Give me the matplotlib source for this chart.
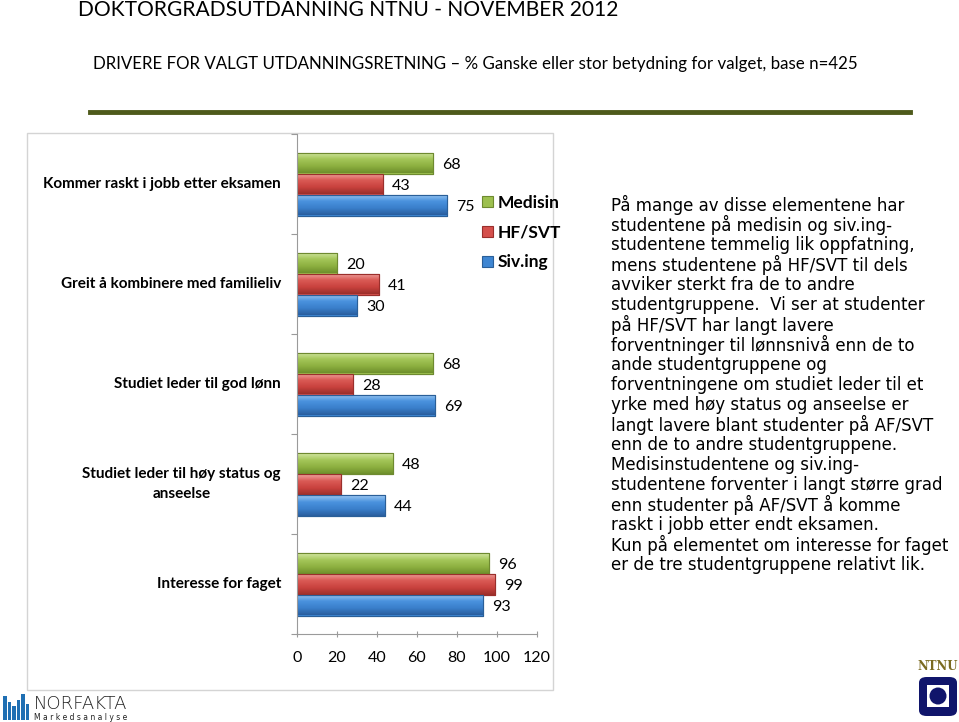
import matplotlib
matplotlib.use('Agg')
import numpy as np
import matplotlib.pyplot as plt
from matplotlib.patches import Rectangle, FancyBboxPatch, Ellipse
from matplotlib.colors import LinearSegmentedColormap

# ---------------- data ----------------
categories = ['Kommer raskt i jobb etter eksamen',
              'Greit å kombinere med familieliv',
              'Studiet leder til god lønn',
              'Studiet leder til høy status og\nanseelse',
              'Interesse for faget']
medisin = [68, 20, 68, 48, 96]
hf_svt = [43, 41, 28, 22, 99]
siv_ing = [75, 30, 69, 44, 93]
series_names = ['Medisin', 'HF/SVT', 'Siv.ing']
x_ticks = [0, 20, 40, 60, 80, 100, 120]

title = 'DOKTORGRADSUTDANNING NTNU - NOVEMBER 2012'
subtitle = 'DRIVERE FOR VALGT UTDANNINGSRETNING \u2013 % Ganske eller stor betydning for valget, base n=425'
body_lines = [
    'På mange av disse elementene har',
    'studentene på medisin og siv.ing-',
    'studentene temmelig lik oppfatning,',
    'mens studentene på HF/SVT til dels',
    'avviker sterkt fra de to andre',
    'studentgruppene.  Vi ser at studenter',
    'på HF/SVT har langt lavere',
    'forventninger til lønnsnivå enn de to',
    'ande studentgruppene og',
    'forventningene om studiet leder til et',
    'yrke med høy status og anseelse er',
    'langt lavere blant studenter på AF/SVT',
    'enn de to andre studentgruppene.',
    'Medisinstudentene og siv.ing-',
    'studentene forventer i langt større grad',
    'enn studenter på AF/SVT å komme',
    'raskt i jobb etter endt eksamen.',
    'Kun på elementet om interesse for faget',
    'er de tre studentgruppene relativt lik.',
]

colors = ['#9DC04F', '#D5504C', '#3F86D2']
edges = ['#6E8A30', '#9A2F2C', '#2A5F98']
grads = [['#D2E6A0', '#A4C659', '#8DB040', '#6E8F2C'],
         ['#F0A3A0', '#DA5A55', '#C9423E', '#9C2F2B'],
         ['#9CC8F2', '#4A92DE', '#3A7FCB', '#2A5E9E']]

W, H = 959, 722
fig = plt.figure(figsize=(W / 100, H / 100), dpi=100)
fig.patch.set_facecolor('white')


def fx(px):
    return px / W


def fy(py):
    return 1 - py / H


# header
fig.text(fx(78), fy(10), title, fontsize=15.1, family='Lato',
         va='center', ha='left', color='black')
fig.text(fx(93), fy(64), subtitle, fontsize=12.2, family='Lato',
         va='center', ha='left', color='black')
fig.add_artist(plt.Line2D([fx(90), fx(910)], [fy(112), fy(112)],
                          color='#4E5A1B', lw=3.5, transform=fig.transFigure))

# chart panel
fig.add_artist(Rectangle((fx(27), fy(690)), fx(553) - fx(27), fy(133) - fy(690),
                         transform=fig.transFigure, facecolor='white',
                         edgecolor='#D4D4D4', lw=1, zorder=-5))

ax = fig.add_axes([fx(297), fy(634), fx(537) - fx(297), fy(134) - fy(634)])
ax.set_zorder(2)
ax.set_facecolor('none')
y = np.arange(len(categories))
h = 0.21
for i, (vals, name) in enumerate(zip([medisin, hf_svt, siv_ing], series_names)):
    off = (i - 1) * h
    bars = ax.barh(y + off, vals, height=h, color=colors[i], edgecolor=edges[i],
                   lw=0.8, label=name)
    cmap = LinearSegmentedColormap.from_list('g%d' % i, grads[i])
    for b in bars:
        x0, y0 = b.get_x(), b.get_y()
        im = ax.imshow(np.linspace(0, 1, 64).reshape(-1, 1), cmap=cmap,
                       aspect='auto', extent=[x0, x0 + b.get_width(), y0 + h, y0],
                       origin='upper', zorder=b.get_zorder() + 0.1)
        im.set_clip_path(b)
        ax.add_patch(Rectangle((x0, y0), b.get_width(), h, facecolor='none',
                               edgecolor=edges[i], lw=0.8, zorder=b.get_zorder() + 0.2))
    for yy, v in zip(y + off, vals):
        ax.text(v + 4.5, yy + 0.02, str(v), va='center', ha='left',
                fontsize=11.5, family='Lato', color='black')

ax.set_xlim(0, 120)
ax.set_ylim(len(categories) - 0.5, -0.5)
ax.set_aspect('auto')
ax.set_xticks(x_ticks)
ax.set_xticklabels([str(t) for t in x_ticks], fontsize=11.5, family='Lato')
ax.tick_params(axis='x', length=4, direction='inout', color='#9A9A9A', pad=10)
ax.set_yticks(np.arange(-0.5, len(categories), 1.0), minor=False)
ax.set_yticklabels([])
ax.tick_params(axis='y', length=4, direction='out', color='#9A9A9A')
for yy, lab in zip(y, categories):
    ax.text(-8, yy, lab, ha='right', va='center', fontsize=11,
            family='Lato', fontweight='bold', color='black',
            transform=ax.transData, multialignment='center', linespacing=1.5)
for s in ['top', 'right']:
    ax.spines[s].set_visible(False)
ax.spines['left'].set_color('#9A9A9A')
ax.spines['bottom'].set_color('#9A9A9A')

leg = fig.legend(loc='upper left', bbox_to_anchor=(fx(466), fy(179)),
                 frameon=False, prop={'family': 'Lato', 'weight': 'bold', 'size': 12.5},
                 handlelength=0.65, handleheight=0.65, handletextpad=0.3,
                 labelspacing=0.8)

# body text
for k, line in enumerate(body_lines):
    fig.text(fx(611), fy(205 + 20 * k), line, fontsize=12, family='DejaVu Sans',
             va='center', ha='left', color='black')

# NORFAKTA logo
bar_h = [24, 18, 14, 20, 26, 16]
for k, bh in enumerate(bar_h):
    fig.add_artist(Rectangle((fx(3 + k * 4.5), fy(720)), fx(3.5), bh / H,
                             transform=fig.transFigure, facecolor='#1F6FB3',
                             edgecolor='none'))
fig.text(fx(34), fy(704), 'NORFAKTA', fontsize=13, family='DejaVu Sans',
         fontweight='light', va='center', ha='left', color='#222222')
fig.text(fx(34), fy(717), 'M a r k e d s a n a l y s e', fontsize=5.5,
         family='DejaVu Sans', va='center', ha='left', color='#222222')

# NTNU logo
fig.text(fx(938), fy(667), 'NTNU', fontsize=8.5, family='DejaVu Serif',
         fontweight='bold', va='center', ha='center', color='#7A6A20')
fig.add_artist(FancyBboxPatch((fx(919), fy(716)), fx(38), fy(677) - fy(716),
                              boxstyle='round,pad=0,rounding_size=0.008',
                              transform=fig.transFigure, facecolor='#10156B',
                              edgecolor='none'))
fig.add_artist(Rectangle((fx(927), fy(707)), fx(22), fy(685) - fy(707),
                         transform=fig.transFigure, facecolor='white', edgecolor='none'))
fig.add_artist(Ellipse((fx(938), fy(696)), fx(17), 17 / H,
                       transform=fig.transFigure, facecolor='#10156B', edgecolor='none'))

fig.savefig('out.png', dpi=100)
